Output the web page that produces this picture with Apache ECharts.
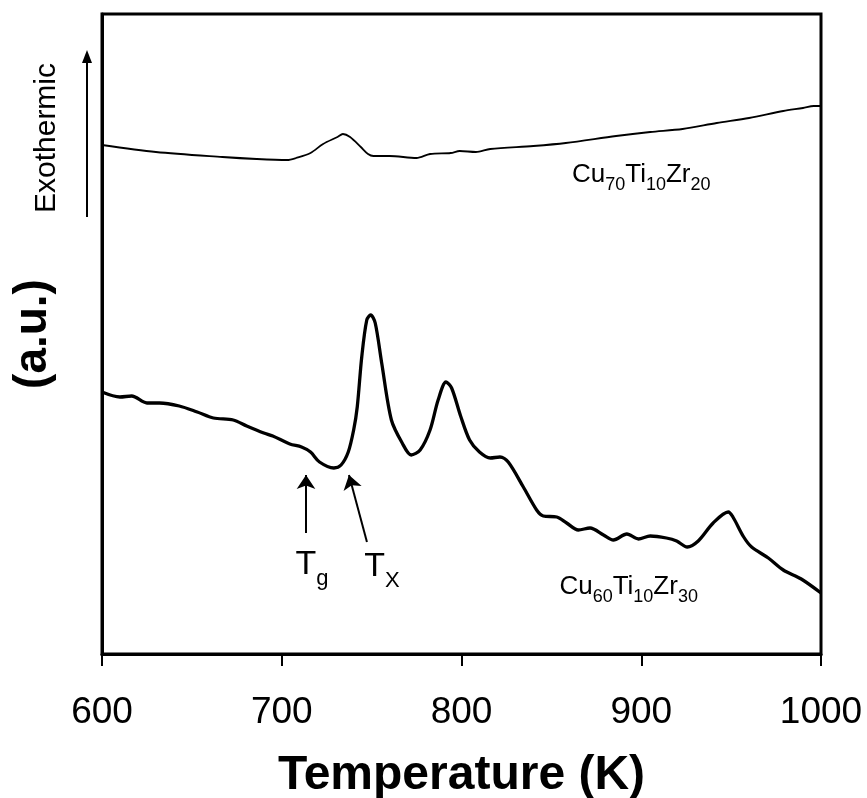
<!DOCTYPE html>
<html>
<head>
<meta charset="utf-8">
<script src="https://cdn.jsdelivr.net/npm/echarts@6/dist/echarts.min.js"></script>
<style>html,body{margin:0;padding:0;background:#fff}#c{width:867px;height:798px}</style>
</head>
<body>
<div id="c"></div>
<script>
// Temperature (K) and signal (a.u.) for Cu70Ti10Zr20 (upper trace)
const tempTop = [600,630,667,686,703,708,716,723,731,734,738,744,748,751,760,775,782.5,794,799,808,816,840,858,886,905,923,942,960,979,990,996,1000];
const sigTop  = [509,502,497,495,494,496,501,510,517,520,517,507,500,498,498,496,500,501,503,502,505,508,511,518,522,525,531,536,543,546,548,548];
// Cu60Ti10Zr30 (lower trace)
const tempBot = [600,610,616.5,625,632,643,653,662,673,680.5,690,695,704.5,711,716,721,729,733,737,740,742,744.5,747.3,749.5,752,755.6,761,767,772,777,782.5,787,791.4,794.5,799.5,804.5,810,816,821.4,826,834.4,841.8,845.5,853,858.5,865,871.5,879,884.5,892,898.4,905,914,919.7,925.6,931.7,940,948.4,951,957,961.4,970.7,979,989,1000];
const sigBot  = [262,257,258,251,251,248,242,236,234,228,221,218,210,207,202,192,186,189,202,224,247,297,334,339,331,291,234,211,199,204,224,254,272,266,238,214,202,196,197,192,167,144,138,137,131,124,126,119,114,120,115,118,116,113,107,113,131,142,137,117,107,96,84,75,61];
const xTicks = [600,700,800,900,1000];
// annotation anchors (data space)
const tgArrow = [[713.5,121],[713.5,179]];
const txArrow = [[747.4,112],[737.4,179]];
const labelTop = [900,476];
const labelBot = [893,64];
const tgLabel = [716.8,86];
const txLabel = [755.8,84];

const FONT = '"Liberation Sans", Arial, sans-serif';
const chart = echarts.init(document.getElementById('c'), null, {renderer:'canvas'});

function zip(a,b){return a.map((v,i)=>[v,b[i]]);}
const subRich = {
  m:{fontFamily:FONT,fontSize:26,color:'#000',lineHeight:32,verticalAlign:'top'},
  s:{fontFamily:FONT,fontSize:18,color:'#000',lineHeight:18,padding:[14,0,0,0],verticalAlign:'top'}
};
const tRich = {
  m:{fontFamily:FONT,fontSize:34,color:'#000',lineHeight:40,verticalAlign:'top'},
  s:{fontFamily:FONT,fontSize:22,color:'#000',lineHeight:22,padding:[20,0,0,0],verticalAlign:'top'}
};
function mp(coord, text, rich){
  return {coord:coord, symbol:'rect', symbolSize:1,
    itemStyle:{color:'rgba(0,0,0,0)'},
    label:{show:true, position:'inside', formatter:text, rich:rich, color:'#000'}};
}

chart.setOption({
  animation:false,
  backgroundColor:'#fff',
  grid:{left:102,right:46,top:14,bottom:144,containLabel:false,outerBoundsMode:'none',
    show:true,borderColor:'#000',borderWidth:3,backgroundColor:'transparent'},
  xAxis:{type:'value',min:600,max:1000,interval:100,
    axisLine:{show:true,lineStyle:{color:'#000',width:3}},
    axisTick:{show:true,inside:false,length:12,lineStyle:{color:'#000',width:2}},
    axisLabel:{fontFamily:FONT,fontSize:37,color:'#000',margin:40,
      formatter:v=>xTicks.includes(v)?String(v):''},
    splitLine:{show:false},
    name:'Temperature (K)',nameLocation:'middle',nameGap:98,
    nameTextStyle:{fontFamily:FONT,fontSize:48,fontWeight:'bold',color:'#000'}
  },
  yAxis:{type:'value',min:0,max:640,
    axisLine:{show:true,lineStyle:{color:'#000',width:3}},
    axisTick:{show:false},axisLabel:{show:false},splitLine:{show:false},
    name:'(a.u.)',nameLocation:'middle',nameGap:46,nameRotate:90,
    nameTextStyle:{fontFamily:FONT,fontSize:46,fontWeight:'bold',color:'#000'}
  },
  series:[
    {type:'line',name:'Cu70Ti10Zr20',data:zip(tempTop,sigTop),smooth:0.3,showSymbol:false,
      lineStyle:{color:'#000',width:1.8},
      markPoint:{silent:true,data:[mp(labelTop,'{m|Cu}{s|70}{m|Ti}{s|10}{m|Zr}{s|20}',subRich)]}
    },
    {type:'line',name:'Cu60Ti10Zr30',data:zip(tempBot,sigBot),smooth:0.3,showSymbol:false,
      lineStyle:{color:'#000',width:3.3},
      markPoint:{silent:true,data:[
        mp(labelBot,'{m|Cu}{s|60}{m|Ti}{s|10}{m|Zr}{s|30}',subRich),
        mp(tgLabel,'{m|T}{s|g}',tRich),
        mp(txLabel,'{m|T}{s|X}',tRich)
      ]},
      markLine:{silent:true,symbol:['none','arrow'],symbolSize:14,
        lineStyle:{color:'#000',width:2,type:'solid'},label:{show:false},
        data:[
          [{coord:tgArrow[0]},{coord:tgArrow[1]}],
          [{coord:txArrow[0]},{coord:txArrow[1]}]
        ]}
    }
  ],
  graphic:[
    {type:'text',x:47,y:138,rotation:Math.PI/2,
      style:{text:'Exothermic',fontFamily:FONT,fontSize:30,fill:'#000',align:'center',verticalAlign:'middle'}},
    {type:'line',shape:{x1:87,y1:217,x2:87,y2:60},style:{stroke:'#000',lineWidth:2}},
    {type:'polygon',shape:{points:[[87,50],[82,63],[92,63]]},style:{fill:'#000'}}
  ]
});
</script>
</body>
</html>
